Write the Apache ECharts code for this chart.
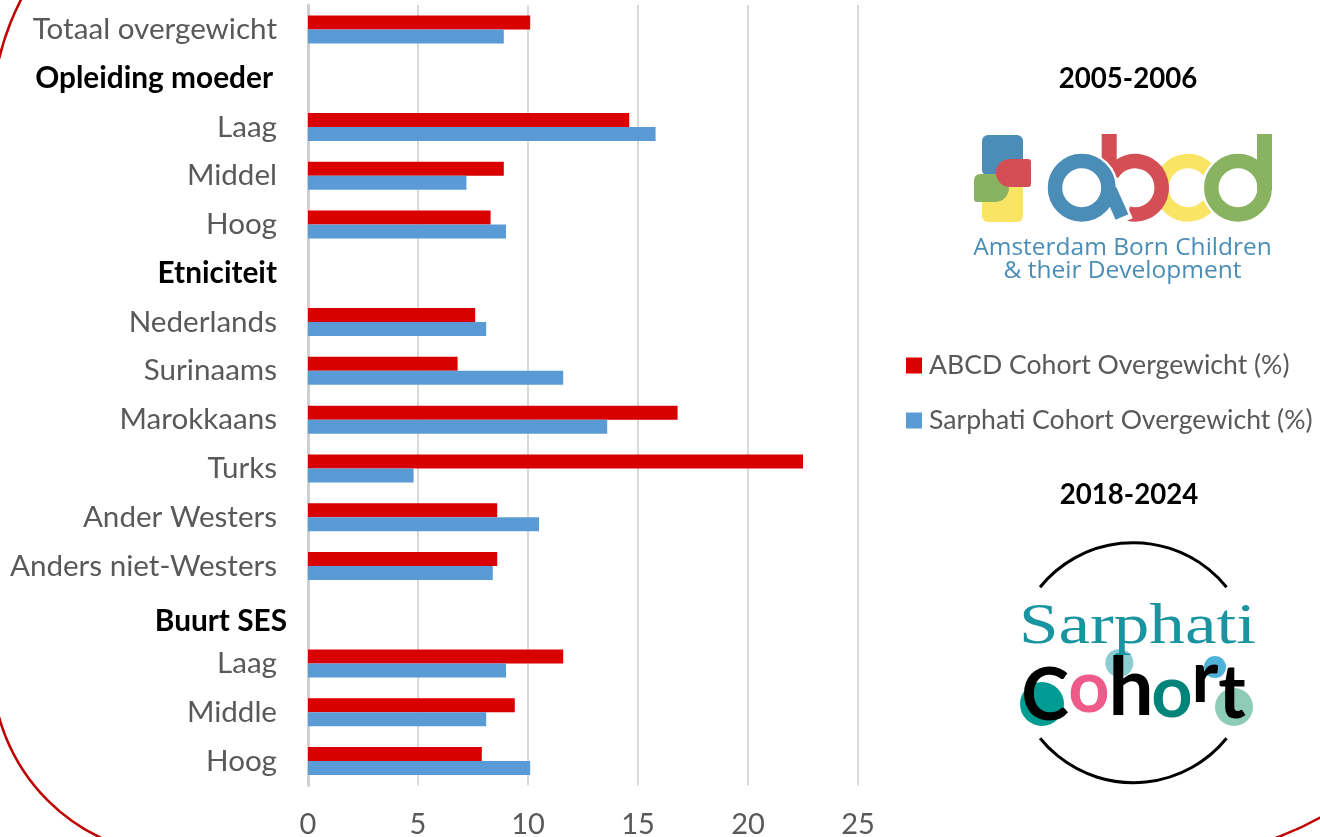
<!DOCTYPE html>
<html>
<head>
<meta charset="utf-8">
<style>html,body{margin:0;padding:0;background:#fff}#c{width:1320px;height:837px}</style>
<script src="https://cdn.jsdelivr.net/npm/echarts@6/dist/echarts.min.js"></script>
</head>
<body>
<div id="c"></div>
<script>
const categories = ['Totaal overgewicht','Opleiding moeder','Laag','Middel','Hoog','Etniciteit','Nederlands','Surinaams','Marokkaans','Turks','Ander Westers','Anders niet-Westers','Buurt SES','Laag','Middle','Hoog'];
const headers = {1:'h1',5:'h2',12:'h3'};
const abcdValues = [10.1,null,14.6,8.9,8.3,null,7.6,6.8,16.8,22.5,8.6,8.6,null,11.6,9.4,7.9];
const sarphatiValues = [8.9,null,15.8,7.2,9.0,null,8.1,11.6,13.6,4.8,10.5,8.4,null,9.0,8.1,10.1];
const seriesNames = ['ABCD Cohort Overgewicht (%)','Sarphati Cohort Overgewicht (%)'];
const xTicks = {min:0,max:25,interval:5};

const FONT = 'Lato, "Open Sans", sans-serif';
const GREY = '#595959';
const t = (x,y,text,size,fill,opts,extra) => Object.assign({type:'text',x,y,silent:true,z:50,style:Object.assign({text,fontSize:size,fontFamily:FONT,fill,align:'center',verticalAlign:'middle'},opts||{})},extra||{});
const rr = (x,y,w,h,r,fill,z) => ({type:'rect',silent:true,z,shape:{x,y,width:w,height:h,r},style:{fill}});
const circ = (cx,cy,r,fill,z) => ({type:'circle',silent:true,z,shape:{cx,cy,r},style:{fill}});
const arc = (cx,cy,r,a0,a1,stroke,w,z) => ({type:'arc',silent:true,z,shape:{cx,cy,r,startAngle:a0*Math.PI/180,endAngle:a1*Math.PI/180,clockwise:true},style:{stroke,lineWidth:w,fill:'none'}});

const ABLUE='#4a8db7',AGREEN='#8ab361',ARED='#d44f55',AYEL='#f9e463';
const decorations = [
  {type:'rect',silent:true,z:1,shape:{x:-8,y:-141,width:1481,height:997,r:[260,300,300,190]},style:{fill:'none',stroke:'#c00000',lineWidth:2.5}},
  t(1128,79,'2005-2006',27.6,'#000',{fontWeight:'bold'}),
  t(1129,495,'2018-2024',27.6,'#000',{fontWeight:'bold'}),
  // ABCD logo
  rr(982,135,41,41,6,ABLUE,10), rr(982,181,41,41,6,AYEL,10), rr(974,174,35,28,[6,14,14,3],AGREEN,11), rr(996,159,35,28,[14,3,3,14],ARED,12),
  arc(1188,187.7,26.7,40,320,AYEL,14.5,13),
  arc(1135,187.7,26.7,-150,105,ARED,14.5,14),
  rr(1101.7,134,15,42,0,ARED,14),
  arc(1238,187.7,26.7,0,360,'#fff',19,15),
  arc(1238,187.7,26.7,0,360,AGREEN,14.5,15),
  rr(1257,134,15,56,0,AGREEN,15),
  arc(1081.7,187.7,26.7,0,360,'#fff',19,15),
  {type:'line',silent:true,z:15,shape:{x1:1110,y1:190,x2:1124,y2:222},style:{stroke:'#fff',lineWidth:19}},
  arc(1081.7,187.7,26.7,0,360,ABLUE,14.5,16),
  {type:'line',silent:true,z:16,shape:{x1:1110,y1:190,x2:1122,y2:217},style:{stroke:ABLUE,lineWidth:14}},
  t(1122.5,248,'Amsterdam Born Children',24.5,ABLUE,{fontFamily:'"Open Sans", Lato, sans-serif'}),
  t(1122.5,271,'& their Development',24.5,ABLUE,{fontFamily:'"Open Sans", Lato, sans-serif'}),
  // Sarphati logo
  arc(1133.3,662.7,120,-141,-39,'#000',3,10),
  arc(1133.3,662.7,120,39,141,'#000',3,10),
  t(1137.5,628,'Sarphati',58,'#1a94a0',{fontFamily:'"Liberation Serif", serif'},{scaleX:1.226}),
  circ(1042,704,22,'#009c94',10), circ(1119.3,663,14,'#8ccdd4',10), circ(1215,667,11,'#4fb3d9',10), circ(1234,707,19,'#8fccb8',10),
  t(1045,696.5,'C',72,'#000',{fontWeight:'bold'}),
  t(1089,689,'o',72,'#ee5a8a',{fontWeight:'bold'}),
  t(1131,689,'h',80,'#000',{fontWeight:'bold'}),
  t(1172,694,'o',72,'#00847a',{fontWeight:'bold'}),
  t(1205,679,'r',72,'#000',{fontWeight:'bold'}),
  t(1232,694,'t',74,'#000',{fontWeight:'bold'})
];

const chart = echarts.init(document.getElementById('c'),null,{renderer:'canvas'});
chart.setOption({
  animation:false,
  backgroundColor:'#fff',
  grid:{left:308,top:5,width:550,height:780.5,containLabel:false,outerBoundsMode:'none'},
  legend:{
    orient:'vertical',left:901,top:347,itemWidth:16,itemHeight:16,itemGap:28,icon:'rect',
    data:seriesNames,
    textStyle:{fontFamily:FONT,fontSize:26.6,color:GREY,padding:[0,0,0,2]}
  },
  xAxis:{
    type:'value',min:xTicks.min,max:xTicks.max,interval:xTicks.interval,
    axisLine:{show:false},axisTick:{show:false},
    axisLabel:{fontFamily:FONT,fontSize:29,color:GREY,margin:25},
    splitLine:{show:true,lineStyle:{color:'#d9d9d9',width:2}}
  },
  yAxis:{
    type:'category',inverse:true,data:categories,
    axisLine:{show:true,lineStyle:{color:'#d0d0d0',width:3}},axisTick:{show:false},
    axisLabel:{
      interval:0,margin:21,
      formatter:(v,i)=> headers[i] ? `{${headers[i]}|${v}}` : `{n|${v}}`,
      rich:{
        n:{fontFamily:FONT,fontSize:29.6,color:GREY,padding:[0,10,0,0]},
        h1:{fontFamily:FONT,fontSize:29.8,fontWeight:'bold',color:'#000',padding:[0,14,0,0]},
        h2:{fontFamily:FONT,fontSize:29.8,fontWeight:'bold',color:'#000',padding:[0,10,0,0]},
        h3:{fontFamily:FONT,fontSize:29.8,fontWeight:'bold',color:'#000',padding:[13,0,0,0]}
      }
    }
  },
  series:[
    {name:seriesNames[0],type:'bar',data:abcdValues,barWidth:14,barGap:'0%',itemStyle:{color:'#d90000'}},
    {name:seriesNames[1],type:'bar',data:sarphatiValues,barWidth:14,barGap:'0%',itemStyle:{color:'#5b9bd5'}}
  ],
  graphic:{elements:decorations}
});
</script>
</body>
</html>
